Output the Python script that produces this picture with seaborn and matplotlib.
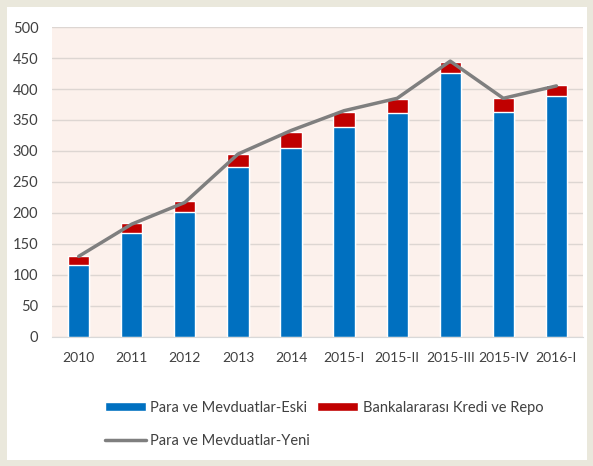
import numpy as np
import pandas as pd
import matplotlib
matplotlib.use('Agg')
import matplotlib.pyplot as plt
import seaborn as sns

# veriler
donemler = ['2010', '2011', '2012', '2013', '2014', '2015-I', '2015-II', '2015-III', '2015-IV', '2016-I']
eski = [116, 168, 202, 274, 305, 339, 361, 426, 363, 388]
banka = [15, 16, 17, 21, 25, 24, 23, 18, 23, 18]
yeni = [130, 182, 217, 295, 333, 365, 385, 445, 385, 405]

df = pd.DataFrame({'donem': donemler, 'eski': eski, 'banka': banka, 'yeni': yeni})
df['toplam'] = df['eski'] + df['banka']

sns.set_style('white')
plt.rcParams['font.family'] = ['Lato', 'DejaVu Sans']

fig = plt.figure(figsize=(5.93, 4.66), dpi=100, facecolor='white',
                 edgecolor='#EAE8DC', linewidth=8)
ax = fig.add_axes([0.088, 0.277, 0.895, 0.665])
ax.set_facecolor('#FCF1EC')

sns.barplot(x='donem', y='toplam', data=df, color='#C00000', width=0.4,
            saturation=1, ax=ax, label='Bankalararası Kredi ve Repo', zorder=2)
sns.barplot(x='donem', y='eski', data=df, color='#0070C0', width=0.4,
            saturation=1, ax=ax, label='Para ve Mevduatlar-Eski', zorder=2)
sns.lineplot(x=np.arange(len(donemler)), y=df['yeni'], color='#7F7F7F', linewidth=2.5,
             ax=ax, label='Para ve Mevduatlar-Yeni', zorder=3)

ax.set_xlim(-0.5, len(donemler) - 0.5)
ax.set_ylim(0, 500)
ax.set_yticks(range(0, 501, 50))
ax.yaxis.grid(True, color='#DDD6D2', linewidth=1, zorder=0)
ax.set_axisbelow(True)
for s in ['top', 'right', 'left']:
    ax.spines[s].set_visible(False)
ax.spines['bottom'].set_color('#D9D9D9')
ax.set_xlabel('')
ax.set_ylabel('')
ax.tick_params(axis='y', length=0, labelsize=10.5, colors='#404040', pad=10)
ax.tick_params(axis='x', length=0, labelsize=10, colors='#404040', pad=11)

handles, labels = ax.get_legend_handles_labels()
ax.get_legend().remove()
d = dict(zip(labels, handles))
order = ['Para ve Mevduatlar-Eski', 'Para ve Mevduatlar-Yeni', 'Bankalararası Kredi ve Repo']
fig.legend([d[k] for k in order], order, ncol=2, frameon=False, loc='upper left',
           bbox_to_anchor=(0.155, 0.168), fontsize=10.5, handlelength=2.8,
           handleheight=0.6, handletextpad=0.3, columnspacing=0.5, labelspacing=1.3,
           labelcolor='#404040')

fig.savefig('out.png', dpi=100)
